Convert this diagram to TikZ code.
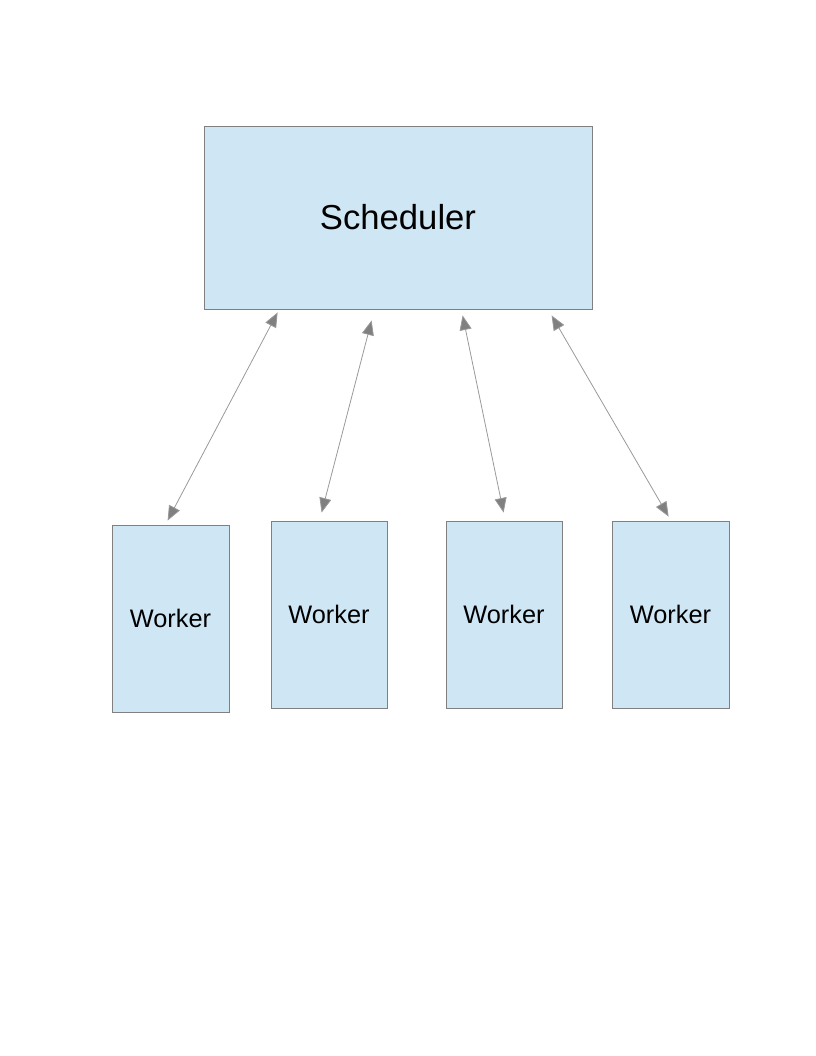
\documentclass[tikz,border=0pt]{standalone}
\usepackage{fontspec}
\setmainfont{Liberation Sans}
\usetikzlibrary{calc,arrows.meta}
\definecolor{boxfill}{RGB}{207,231,245}
\definecolor{boxline}{RGB}{128,128,128}
\tikzset{
	block/.style={draw=boxline, line width=0.6pt, fill=boxfill, inner sep=0pt},
	link/.style={draw=boxline!80, line width=0.6pt, {Triangle[length=11pt,width=9pt,fill=boxline]}-{Triangle[length=11pt,width=9pt,fill=boxline]}}
}
\begin{document}
\begin{tikzpicture}[x=0.75pt, y=-0.75pt]
			%%%%% START %%%%%
			
			\useasboundingbox (0, 0) rectangle (816, 1056);
			
			\node[block, minimum width=291pt, minimum height=137.25pt, font=\fontsize{26}{30}\selectfont] (sched) at (398, 217.5) {Scheduler};
			
			\node[block, minimum width=87.75pt, minimum height=140.25pt, font=\fontsize{19}{23}\selectfont] (w1) at (170.5, 618.5) {Worker};
			\node[block, minimum width=87pt, minimum height=140.25pt, font=\fontsize{19}{23}\selectfont] (w2) at (329, 614.5) {Worker};
			\node[block, minimum width=87pt, minimum height=140.25pt, font=\fontsize{19}{23}\selectfont] (w3) at (504, 614.5) {Worker};
			\node[block, minimum width=87.75pt, minimum height=140.25pt, font=\fontsize{19}{23}\selectfont] (w4) at (670.5, 614.5) {Worker};
			
			\draw[link] ($(sched.south west)+(74, 3)$) -- ($(w1.north west)+(56, -4)$);
			\draw[link] ($(sched.south west)+(168, 11)$) -- ($(w2.north west)+(51, -8)$);
			\draw[link] ($(sched.south west)+(259, 6)$) -- ($(w3.north west)+(58, -8)$);
			\draw[link] ($(sched.south west)+(348, 6)$) -- ($(w4.north west)+(57, -4)$);
			
			%%%%% END %%%%%
		\end{tikzpicture}
\end{document}
